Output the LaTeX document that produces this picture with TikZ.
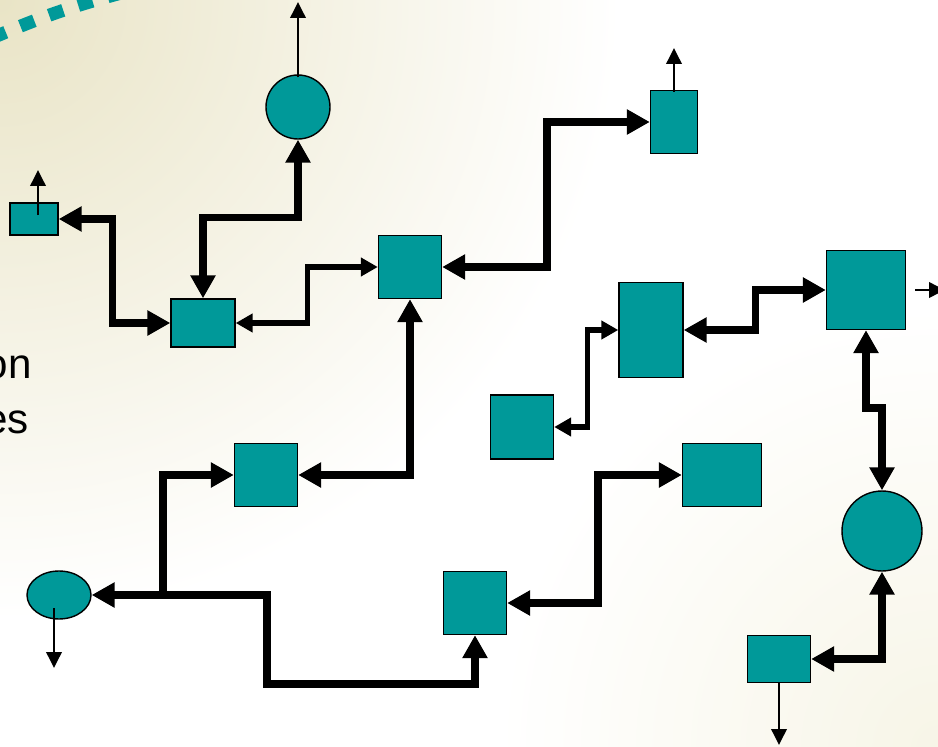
\documentclass[tikz,border=0pt]{standalone}
\usepackage{fontspec}
\setmainfont{Liberation Sans}
\usetikzlibrary{arrows.meta,shapes.geometric}
\definecolor{boxteal}{HTML}{009999}
\definecolor{paper}{HTML}{E9E4C6}
\definecolor{cream}{HTML}{F7F5E7}
\begin{document}
\begin{tikzpicture}[x=0.02cm, y=-0.02cm,
    main/.style = {draw, fill=boxteal, line width=0.8pt, inner sep=0pt},
    flow/.style = {line width=4.3pt, arrows={Triangle[length=4.6mm,width=4.8mm]-Triangle[length=4.6mm,width=4.8mm]}},
    feed/.style = {line width=4.3pt, -{Triangle[length=4.6mm,width=4.8mm]}},
    link/.style = {line width=3pt, arrows={Triangle[length=3.4mm,width=3.6mm]-Triangle[length=3.4mm,width=3.6mm]}},
    exit/.style = {line width=1.1pt, -{Triangle[length=3.2mm,width=3.1mm]}}]
  \clip (0,0) rectangle (938,747);
  \fill[white] (0,0) rectangle (938,747);
  \shade[inner color=paper, outer color=white] (0,0) circle (620);
  \shade[inner color=cream, outer color=white] (938,747) circle (440);
  \draw[boxteal, line width=7.4pt, dash pattern=on 8.5pt off 9pt] (-8,38) to[bend left=4] (125,-8);
  \node[anchor=base east, font=\fontsize{24}{28}\selectfont] (t1) at (38,378) {on};
  \node[anchor=base east, font=\fontsize{24}{28}\selectfont] (t2) at (35,433) {es};
  % nodes
  \node[main, minimum width=0.96cm, minimum height=0.64cm] (1) at (34,219) {};
  \node[main, circle, minimum size=1.28cm] (2) at (298,107) {};
  \node[main, minimum width=0.94cm, minimum height=1.26cm] (3) at (674,122) {};
  \node[main, minimum width=1.28cm, minimum height=0.96cm] (4) at (203,323) {};
  \node[main, minimum size=1.26cm] (5) at (410,267) {};
  \node[main, minimum width=1.28cm, minimum height=1.9cm] (6) at (651,330) {};
  \node[main, minimum size=1.58cm] (7) at (866,290) {};
  \node[main, minimum width=1.26cm, minimum height=1.28cm] (8) at (522,427) {};
  \node[main, minimum size=1.26cm] (9) at (266,475) {};
  \node[main, minimum width=1.58cm, minimum height=1.26cm] (10) at (722,475) {};
  \node[main, circle, minimum size=1.6cm] (11) at (882,531) {};
  \node[main, ellipse, minimum width=1.28cm, minimum height=0.96cm] (12) at (59,595) {};
  \node[main, minimum size=1.26cm] (13) at (475,603) {};
  \node[main, minimum width=1.26cm, minimum height=0.94cm] (14) at (779,659) {};
  % free ends
  \coordinate (1o) at (38,170);
  \coordinate (2o) at (298,2);
  \coordinate (3o) at (674,48);
  \coordinate (7o) at (945,290);
  \coordinate (12o) at (54,668);
  \coordinate (14o) at (779,745);
  \coordinate (split) at (163,595);
  % connectors
  \draw[flow] (4.west) -- ++(-58,0) |- (1.east);
  \draw[flow] (4.north) -- ++(0,-81) -| (2.south);
  \draw[link] (4.east) -- ++(72,0) |- (5.west);
  \draw[flow] (5.east) -- ++(105,0) |- (3.west);
  \draw[flow] (9.east) -| (5.south);
  \draw[flow] (12.east) -- (split) |- (9.west);
  \draw[feed] (split) -- ++(104,0) -- ++(0,89) -| (13.south);
  \draw[flow] (13.east) -- ++(91,0) |- (10.west);
  \draw[link] (8.east) -- ++(33,0) |- (6.west);
  \draw[flow] (6.east) -- ++(72,0) |- (7.west);
  \draw[flow] (7.south) -- ++(0,78) -| (11.north);
  \draw[flow] (11.south) |- (14.east);
  % outputs
  \draw[exit] ([shift={(4,-4)}]1.center) -- (1o);
  \draw[exit] ([shift={(0,3)}]2.north) -- (2o);
  \draw[exit] ([shift={(0,2)}]3.north) -- (3o);
  \draw[exit] ([shift={(9,0)}]7.east) -- (7o);
  \draw[exit] ([shift={(-5,13)}]12.center) -- (12o);
  \draw[exit] (14.south) -- (14o);
\end{tikzpicture}
\end{document}
